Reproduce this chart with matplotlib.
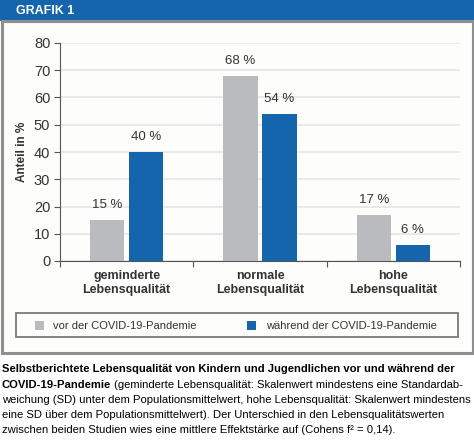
import matplotlib
matplotlib.use("Agg")
import matplotlib.pyplot as plt
from matplotlib.patches import Rectangle

# data
categories = ["geminderte\nLebensqualität", "normale\nLebensqualität", "hohe\nLebensqualität"]
vor_werte = [15, 68, 17]
waehrend_werte = [40, 54, 6]
serien = ["vor der COVID-19-Pandemie", "während der COVID-19-Pandemie"]
y_ticks = [0, 10, 20, 30, 40, 50, 60, 70, 80]

GRAU = "#b9bbbe"
BLAU = "#1565ad"
TEXT = "#333333"

plt.rcParams["font.family"] = ["Liberation Sans", "DejaVu Sans"]

W, H = 474, 448
fig = plt.figure(figsize=(W / 100, H / 100), dpi=100)
fig.patch.set_facecolor("white")
renderer = fig.canvas.get_renderer()

def fx(px):
    return px / W

def fy(py):
    return 1 - py / H

def fit_size(s, width_px, weight="normal", base=10):
    # font size so that the string spans width_px
    t = fig.text(0, 0, s, fontsize=base, fontweight=weight)
    w = t.get_window_extent(renderer).width
    t.remove()
    return base * width_px / w

# header bar
fig.patches.append(Rectangle((0, fy(21)), 1, 21 / H, transform=fig.transFigure,
                             facecolor=BLAU, edgecolor="none", zorder=-2))
fig.text(fx(16), fy(11), "GRAFIK 1", color="white", fontsize=9, fontweight="bold",
         va="center", ha="left")

# grey frame around the chart
fig.patches.append(Rectangle((fx(1.5), fy(353)), fx(471), (353 - 21) / H,
                             transform=fig.transFigure, facecolor="#fdfdfc",
                             edgecolor="#8f8f8f", linewidth=2.2, zorder=-2))

ax = fig.add_axes([fx(60), fy(261), fx(400), 218 / H])
ax.set_facecolor("none")

x = range(len(categories))
off, bw = 0.146, 0.256
b1 = ax.bar([i - off for i in x], vor_werte, width=bw, color=GRAU, zorder=3)
b2 = ax.bar([i + off for i in x], waehrend_werte, width=bw, color=BLAU, zorder=3)
for bars in (b1, b2):
    for r in bars:
        ax.text(r.get_x() + r.get_width() / 2, r.get_height() + 3.2, f"{r.get_height():.0f} %",
                ha="center", va="bottom", fontsize=9.5, color=TEXT)

ax.set_xlim(-0.5, 2.5)
ax.set_ylim(0, 80)
ax.set_yticks(y_ticks)
ax.yaxis.grid(True, color="#e6e6e6", linewidth=1.2, zorder=0)
ax.tick_params(axis="y", labelsize=10.5, labelcolor=TEXT, color="#555555", length=4, pad=3)
ax.set_xticks([-0.5, 0.5, 1.5, 2.5])
ax.set_xticklabels([])
ax.tick_params(axis="x", color="#555555", length=4, direction="out")
for i, c in enumerate(categories):
    ax.text(i, -3.2, c, ha="center", va="top", fontsize=9, fontweight="bold",
            color=TEXT, linespacing=1.3)
for s in ["top", "right"]:
    ax.spines[s].set_visible(False)
for s in ["left", "bottom"]:
    ax.spines[s].set_color("#555555")
ax.set_ylabel("Anteil in %", fontsize=8.5, fontweight="bold", color=TEXT, labelpad=4)

# legend box
fig.patches.append(Rectangle((fx(16), fy(337)), fx(442), 24 / H, transform=fig.transFigure,
                             facecolor="none", edgecolor="#7a7a7a", linewidth=1.3, zorder=2))
leg_fs = fit_size(serien[0], 144)
for (x0, x_txt), farbe, lab in zip([(35, 53), (247, 266)], [GRAU, BLAU], serien):
    fig.patches.append(Rectangle((fx(x0), fy(330)), fx(9), 9 / H, transform=fig.transFigure,
                                 facecolor=farbe, edgecolor="none", zorder=2))
    fig.text(fx(x_txt), fy(325.5), lab, fontsize=leg_fs, color=TEXT, va="center", ha="left")

# caption
lines = [
    "weichung (SD) unter dem Populationsmittelwert, hohe Lebensqualität: Skalenwert mindestens",
    "eine SD über dem Populationsmittelwert). Der Unterschied in den Lebensqualitätswerten",
    "zwischen beiden Studien wies eine mittlere Effektstärke auf (Cohens f² = 0,14).",
]
cap_fs = fit_size(lines[0], 469)
cap_kw = dict(fontsize=cap_fs, color="black", va="baseline")
fig.text(fx(2), fy(372), "Selbstberichtete Lebensqualität von Kindern und Jugendlichen vor und während der",
         fontweight="bold", **cap_kw)
t_bold = fig.text(fx(2), fy(388), "COVID-19-Pandemie", fontweight="bold", **cap_kw)
bb = t_bold.get_window_extent(renderer)
fig.text(bb.x1 / W + fx(3), fy(388),
         "(geminderte Lebensqualität: Skalenwert mindestens eine Standardab-", **cap_kw)
for k, line in enumerate(lines):
    fig.text(fx(2), fy(403 + 15 * k), line, **cap_kw)

fig.savefig("out.png", dpi=100)
